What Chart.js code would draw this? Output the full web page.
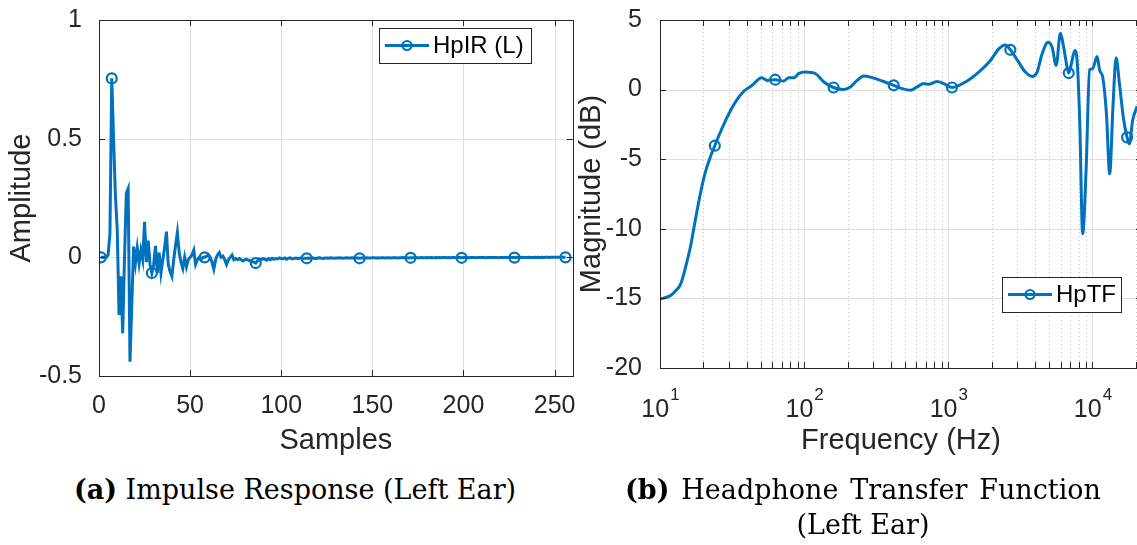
<!DOCTYPE html>
<html>
<head>
<meta charset="utf-8">
<title>HpIR / HpTF</title>
<script src="https://cdn.jsdelivr.net/npm/chart.js@4.4.1/dist/chart.umd.min.js"></script>
<style>
  html, body { margin: 0; padding: 0; background: #fff; overflow: hidden; }
  body { width: 1137px; height: 545px; position: relative; }
  #irChart { position: absolute; left: 0; top: 0; }
  #tfChart { position: absolute; left: 575px; top: 0; }
  .caption { position: absolute; font-family: "DejaVu Serif", serif; font-size: 27px; color: #000; line-height: 35px; }
  #capA { left: 60px; top: 472px; width: 470px; text-align: center; white-space: nowrap; }
  #capB { left: 625px; top: 472px; width: 476px; text-align: justify; text-align-last: center; }
</style>
</head>
<body>
<canvas id="irChart" width="580" height="465"></canvas>
<canvas id="tfChart" width="570" height="465"></canvas>
<div class="caption" id="capA"><b>(a)</b> Impulse Response (Left Ear)</div>
<div class="caption" id="capB"><b>(b)</b> Headphone Transfer Function (Left Ear)</div>
<script>
// impulse response, left ear (samples 1..256)
const irAmp = [
  0, 0, 0, 0, 0.01, 0.1, 0.754, 0.5, 0.26, 0.12,
  -0.243, -0.08, -0.32, 0.0, 0.27, 0.29, -0.44, -0.2, 0.045, -0.025,
  0.04, -0.025, 0.03, -0.01, 0.15, -0.02, 0.07, -0.03, -0.066, -0.03,
  0.048, -0.066, 0.02, -0.066, -0.01, 0.04, 0.108, -0.03, -0.06, -0.08,
  -0.01, 0.05, 0.105, 0.02, -0.02, -0.047, 0.0, -0.04, -0.01, 0.0,
  0.01, 0.03, -0.03, -0.01, 0.0, -0.01, 0.0, 0.0, 0.005, 0.01,
  0.0, -0.02, -0.05, -0.01, 0.01, 0.02, 0.0, 0.005, -0.01, -0.03,
  -0.01, 0.0, 0.01, -0.01, -0.005, -0.01, -0.005, -0.01, -0.015, -0.01,
  -0.008, -0.012, -0.015, -0.018, -0.02, -0.024, -0.015, -0.006, -0.01, -0.005,
  -0.008, -0.012, -0.005, -0.01, -0.004, -0.008, -0.005, -0.007, -0.002, -0.005,
  -0.006, -0.003, -0.008, -0.004, -0.002, -0.007, -0.005, -0.003, -0.006, -0.004,
  -0.002, -0.005, -0.004, -0.004, -0.003, -0.005, -0.002, -0.004, -0.006, -0.003,
  -0.002, -0.004, -0.005, -0.003, -0.003, -0.004, -0.002, -0.003, -0.004, -0.003,
  -0.003, -0.002, -0.003, -0.004, -0.003, -0.002, -0.003, -0.003, -0.002, -0.004, -0.003, -0.003, -0.004, -0.003,
  -0.002, -0.003, -0.002, -0.003, -0.003, -0.002, -0.002, -0.003, -0.002, -0.003, -0.002, -0.002, -0.003, -0.002,
  -0.002, -0.003, -0.002, -0.002, -0.002, -0.003, -0.002, -0.002, -0.001, -0.002, -0.002, -0.003, -0.002, -0.002,
  -0.002, -0.001, -0.002, -0.002, -0.001, -0.002, -0.002, -0.001, -0.002, -0.001, -0.002, -0.002, -0.001, -0.002,
  -0.001, -0.002, -0.001, -0.001, -0.002, -0.001, -0.002, -0.001, -0.001, -0.002, -0.001, -0.001, -0.002, -0.001,
  -0.001, -0.001, -0.002, -0.001, -0.001, -0.001, -0.002, -0.001, -0.001, -0.001, -0.001, -0.002, -0.001, -0.001,
  -0.001, -0.001, -0.001, -0.001, -0.002, -0.001, -0.001, -0.001, -0.001, -0.001, -0.001, -0.001, -0.001, -0.001,
  -0.001, -0.001, -0.001, 0.0, -0.001, -0.001, -0.001, 0.0, -0.001, -0.001, 0.0, -0.001, 0.0, -0.001,
  0.0, -0.001, 0.0, 0.0, -0.001, 0.0, 0.0, 0.0, 0.0, 0.0, 0.0, 0.0, 0.0, 0.0
];
const irMarkerIdx = [1, 7, 29, 58, 86, 114, 143, 171, 199, 228, 256];
const irXTicks = [0, 50, 100, 150, 200, 250];
const irYTicks = [-0.5, 0, 0.5, 1];

// headphone transfer function, left ear
const tfFreq = [
  10, 11.8, 12.8, 13.9, 15.0, 16.3, 17.6, 19.1, 20.7, 22.4,
  24, 26.3, 29.3, 33.4, 38.1, 43.6, 50.6, 55.4, 63, 72.2,
  78.2, 84.7, 92, 102, 120, 137, 160, 188, 209, 233,
  259, 296, 348, 418, 478, 546, 608, 675, 731, 836,
  929, 1060, 1315, 1626, 1960, 2238, 2491, 2693, 3075, 3424,
  3811, 4129, 4472, 4920, 5248, 5597, 5988, 6310, 6667, 6843,
  7141, 7533, 7819, 8150, 8551, 9030, 9552, 10020, 10760, 11220,
  11770, 12490, 13160, 13900, 14580, 15380, 16460, 17380, 18030, 19010,
  20400
];
const tfMag = [
  -15.05, -14.8, -14.46, -13.98, -12.8, -11.24, -9.34, -7.43, -5.88, -4.81,
  -4.03, -3.03, -1.96, -0.88, -0.12, 0.31, 0.86, 0.66, 0.71, 0.62,
  0.86, 0.86, 1.16, 1.26, 1.14, 0.55, 0.15, 0.0, 0.19, 0.66,
  0.97, 0.86, 0.62, 0.31, 0.07, -0.05, 0.19, 0.43, 0.38, 0.59,
  0.43, 0.15, 0.55, 1.26, 2.09, 2.93, 3.21, 2.86, 1.97, 1.26,
  0.95, 1.26, 2.57, 3.4, 3.04, 1.74, 4.04, 3.04, 1.61, 1.19,
  1.86, 2.81, 2.09, -2.19, -10.36, -5.76, 1.43, 1.5, 2.38, 1.38,
  0.9, -1.71, -6.05, -1.0, 2.29, 0.43, -2.19, -3.43, -3.9, -2.19,
  -1.2
];
const tfMarkerFreq = [24, 63, 160, 418, 1060, 2693, 6843, 17380];
const tfYTicks = [-20, -15, -10, -5, 0, 5];
const tfDecades = [10, 100, 1000, 10000];

const BLUE = '#0072BD';
const AXIS = '#262626';
const SANS = '"Liberation Sans", Arial, sans-serif';
const TICK_FONT = { family: SANS, size: 25 };
const TITLE_FONT = { family: SANS, size: 29 };

function strokeLine(ctx, x1, y1, x2, y2) {
  ctx.beginPath();
  ctx.moveTo(x1, y1);
  ctx.lineTo(x2, y2);
  ctx.stroke();
}

function minorLogValues(min, max) {
  let out = [];
  for (let d = 10; d < max; d *= 10) {
    for (let k = 2; k <= 9; k++) {
      if (k * d >= min && k * d <= max) out.push(k * d);
    }
  }
  return out;
}

// keep the plot box where afterFit puts it, labels may hang over
function noOverhang(s) {
  s.paddingLeft = 0;
  s.paddingRight = 0;
  s.paddingTop = 0;
  s.paddingBottom = 0;
}

// grid, inward ticks, box, legend and decade labels
const axesBox = {
  id: 'axesBox',
  beforeDatasetsDraw(chart, args, opt) {
    const ctx = chart.ctx;
    const a = chart.chartArea;
    const xs = chart.scales.x;
    const ys = chart.scales.y;
    ctx.save();
    ctx.lineWidth = 1;
    if (opt.minorX) {
      ctx.strokeStyle = '#c2c2c2';
      ctx.setLineDash([1, 3]);
      opt.minorX.forEach(v => {
        const px = Math.round(xs.getPixelForValue(v)) + 0.5;
        strokeLine(ctx, px, a.top, px, a.bottom);
      });
      ctx.setLineDash([]);
    }
    ctx.strokeStyle = '#dfdfdf';
    xs.ticks.forEach(t => {
      const px = Math.round(xs.getPixelForValue(t.value)) + 0.5;
      strokeLine(ctx, px, a.top, px, a.bottom);
    });
    ys.ticks.forEach(t => {
      const py = Math.round(ys.getPixelForValue(t.value)) + 0.5;
      strokeLine(ctx, a.left, py, a.right, py);
    });
    ctx.restore();
  },
  afterDatasetsDraw(chart, args, opt) {
    const ctx = chart.ctx;
    const a = chart.chartArea;
    const xs = chart.scales.x;
    const ys = chart.scales.y;
    const len = 6;
    ctx.save();
    ctx.strokeStyle = AXIS;
    ctx.lineWidth = 1;
    const xVals = xs.ticks.map(t => t.value).concat(opt.minorX || []);
    xVals.forEach(v => {
      const px = Math.round(xs.getPixelForValue(v)) + 0.5;
      strokeLine(ctx, px, a.bottom, px, a.bottom - len);
      strokeLine(ctx, px, a.top, px, a.top + len);
    });
    ys.ticks.forEach(t => {
      const py = Math.round(ys.getPixelForValue(t.value)) + 0.5;
      strokeLine(ctx, a.left, py, a.left + len, py);
      strokeLine(ctx, a.right, py, a.right - len, py);
    });
    ctx.strokeRect(Math.round(a.left) + 0.5, Math.round(a.top) + 0.5,
      Math.round(a.right - a.left), Math.round(a.bottom - a.top));
    ctx.restore();
  },
  afterDraw(chart, args, opt) {
    const ctx = chart.ctx;
    const a = chart.chartArea;
    const xs = chart.scales.x;
    ctx.save();
    if (opt.decades) {
      ctx.fillStyle = AXIS;
      ctx.textAlign = 'left';
      ctx.textBaseline = 'alphabetic';
      opt.decades.forEach(d => {
        const ex = String(Math.round(Math.log10(d)));
        ctx.font = '25px ' + SANS;
        const w1 = ctx.measureText('10').width;
        ctx.font = '17px ' + SANS;
        const w2 = ctx.measureText(ex).width;
        const x0 = xs.getPixelForValue(d) - (w1 + w2) / 2;
        ctx.font = '25px ' + SANS;
        ctx.fillText('10', x0, a.bottom + 49);
        ctx.font = '17px ' + SANS;
        ctx.fillText(ex, x0 + w1 + 1, a.bottom + 32);
      });
    }
    if (opt.legend) {
      const L = opt.legend;
      const ds = chart.data.datasets[0];
      const x = Math.round(a.left + L.dx);
      const y = Math.round(a.top + L.dy);
      const cy = y + L.h / 2;
      ctx.fillStyle = '#fff';
      ctx.fillRect(x, y, L.w, L.h);
      ctx.strokeStyle = AXIS;
      ctx.lineWidth = 1;
      ctx.strokeRect(x + 0.5, y + 0.5, L.w, L.h);
      ctx.strokeStyle = ds.borderColor;
      ctx.lineWidth = ds.borderWidth;
      strokeLine(ctx, x + 6, cy, x + 50, cy);
      ctx.lineWidth = ds.pointBorderWidth;
      ctx.beginPath();
      ctx.arc(x + 28, cy, 4.5, 0, Math.PI * 2);
      ctx.stroke();
      ctx.fillStyle = '#000';
      ctx.font = '24px ' + SANS;
      ctx.textAlign = 'left';
      ctx.textBaseline = 'middle';
      ctx.fillText(ds.label, x + 54, cy + 1);
    }
    ctx.restore();
  }
};

function lineStyle() {
  return {
    borderColor: BLUE,
    borderWidth: 3,
    pointBorderColor: BLUE,
    pointBackgroundColor: 'rgba(0,0,0,0)',
    pointBorderWidth: 2.2,
    pointHoverRadius: 0
  };
}

function irChart() {
  new Chart(document.getElementById('irChart'), {
    type: 'line',
    data: {
      datasets: [Object.assign(lineStyle(), {
        label: 'HpIR (L)',
        data: irAmp.map((v, i) => ({ x: i + 1, y: v })),
        tension: 0,
        pointRadius: c => irMarkerIdx.includes(c.dataIndex + 1) ? 5 : 0
      })]
    },
    options: {
      responsive: false,
      animation: false,
      devicePixelRatio: 1,
      events: [],
      layout: { padding: { top: 20, right: 6, bottom: 0, left: 0 } },
      plugins: {
        legend: { display: false },
        tooltip: { enabled: false },
        axesBox: { legend: { dx: 280, dy: 8, w: 152, h: 35 } }
      },
      scales: {
        x: {
          type: 'linear', min: 0, max: 260,
          afterBuildTicks: s => { s.ticks = irXTicks.map(v => ({ value: v })); },
          afterFit: s => { s.height = 89; noOverhang(s); },
          grid: { display: false },
          border: { display: false },
          ticks: { color: AXIS, font: TICK_FONT, padding: 7, maxRotation: 0, autoSkip: false, callback: v => String(v) },
          title: { display: true, text: 'Samples', color: AXIS, font: TITLE_FONT, padding: { top: 0, bottom: 7 } }
        },
        y: {
          type: 'linear', min: -0.5, max: 1,
          afterBuildTicks: s => { s.ticks = irYTicks.map(v => ({ value: v })); },
          afterFit: s => { s.width = 99; noOverhang(s); },
          grid: { display: false },
          border: { display: false },
          ticks: { color: AXIS, font: TICK_FONT, padding: 9, callback: v => String(v) },
          title: { display: true, text: 'Amplitude', color: AXIS, font: TITLE_FONT, padding: { top: 5, bottom: 0 } }
        }
      }
    },
    plugins: [axesBox]
  });
}

function tfChart() {
  const xMax = 22050;
  new Chart(document.getElementById('tfChart'), {
    type: 'line',
    data: {
      datasets: [Object.assign(lineStyle(), {
        label: 'HpTF',
        data: tfFreq.map((f, i) => ({ x: f, y: tfMag[i] })),
        cubicInterpolationMode: 'monotone',
        pointRadius: c => tfMarkerFreq.includes(tfFreq[c.dataIndex]) ? 5 : 0
      })]
    },
    options: {
      responsive: false,
      animation: false,
      devicePixelRatio: 1,
      events: [],
      layout: { padding: { top: 20, right: 3, bottom: 0, left: 0 } },
      plugins: {
        legend: { display: false },
        tooltip: { enabled: false },
        axesBox: {
          minorX: minorLogValues(10, xMax),
          decades: tfDecades,
          legend: { dx: 342, dy: 257, w: 119, h: 35 }
        }
      },
      scales: {
        x: {
          type: 'logarithmic', min: 10, max: xMax,
          afterBuildTicks: s => { s.ticks = tfDecades.map(v => ({ value: v })); },
          afterFit: s => { s.height = 97; noOverhang(s); },
          grid: { display: false },
          border: { display: false },
          ticks: { display: false },
          title: { display: true, text: 'Frequency (Hz)', color: AXIS, font: TITLE_FONT, padding: { top: 0, bottom: 7 } }
        },
        y: {
          type: 'linear', min: -20, max: 5,
          afterBuildTicks: s => { s.ticks = tfYTicks.map(v => ({ value: v })); },
          afterFit: s => { s.width = 85; noOverhang(s); },
          grid: { display: false },
          border: { display: false },
          ticks: { color: AXIS, font: TICK_FONT, padding: 10, callback: v => String(v) },
          title: { display: true, text: 'Magnitude (dB)', color: AXIS, font: TITLE_FONT, padding: { top: 0, bottom: 0 } }
        }
      }
    },
    plugins: [axesBox]
  });
}

irChart();
tfChart();
</script>
</body>
</html>
